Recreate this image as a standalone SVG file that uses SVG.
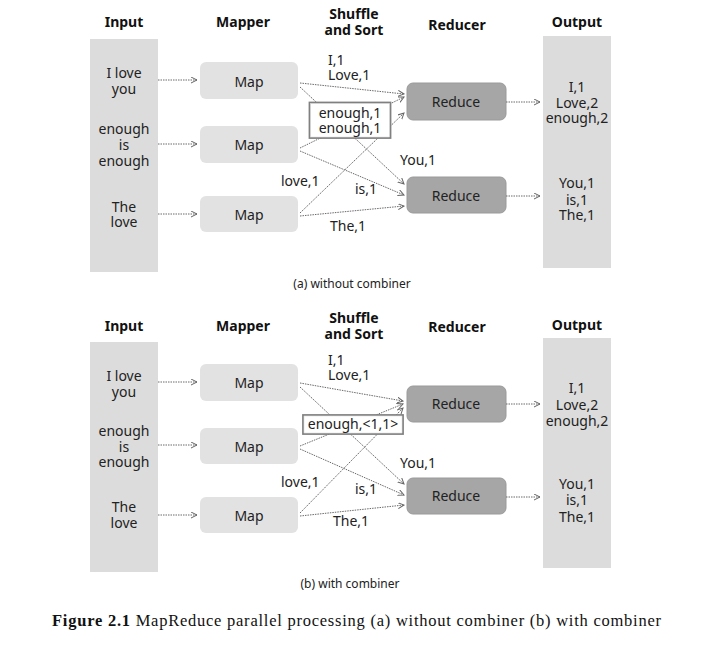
<svg xmlns="http://www.w3.org/2000/svg" width="717" height="656" viewBox="0 0 717 656">
<style>
.hd{font-family:"Noto Sans","Open Sans",sans-serif;font-weight:bold;font-size:14px;fill:#111;text-anchor:middle}
.t{font-family:"Noto Sans","Open Sans",sans-serif;font-size:14px;fill:#222}
.c{text-anchor:middle}
.col{fill:#dcdcdc}
.map{fill:#e2e2e2}
.red{fill:#a6a6a6;stroke:#9a9a9a;stroke-width:1}
.ln{stroke:#6a6a6a;stroke-width:1;stroke-dasharray:1.5 1;fill:none;marker-end:url(#ah)}
.cap{font-family:"Noto Sans","Open Sans",sans-serif;font-size:12px;fill:#222;text-anchor:middle}
.kb{fill:#fff;stroke:#808080;stroke-width:1.8}
.kbi{fill:none;stroke:#d8d8d8;stroke-width:0.5}
</style>
<defs>
<marker id="ah" markerUnits="userSpaceOnUse" markerWidth="8" markerHeight="8" refX="6" refY="3" orient="auto">
<path d="M0,0 L6,3 L0,6" fill="none" stroke="#666" stroke-width="1"/>
</marker>
</defs>
<rect width="717" height="656" fill="#fff"/>

<!-- ===== Panel (a) ===== -->
<g id="headers-a">
<text class="hd" x="124" y="27">Input</text>
<text class="hd" x="243" y="27">Mapper</text>
<text class="hd" x="354" y="19">Shuffle</text>
<text class="hd" x="354" y="35">and Sort</text>
<text class="hd" x="457" y="30">Reducer</text>
<text class="hd" x="577" y="27">Output</text>
</g>
<g id="input-a">
<rect class="col" x="90" y="39" width="68" height="233"/>
<text class="t c" x="124" y="78">I love</text>
<text class="t c" x="124" y="94">you</text>
<text class="t c" x="124" y="134">enough</text>
<text class="t c" x="124" y="150">is</text>
<text class="t c" x="124" y="166">enough</text>
<text class="t c" x="124" y="212">The</text>
<text class="t c" x="124" y="227">love</text>
</g>
<g id="map1-a"><rect class="map" x="200" y="62" width="98" height="37" rx="6"/><text class="t c" x="249" y="87">Map</text></g>
<g id="map2-a"><rect class="map" x="200" y="126" width="98" height="37" rx="6"/><text class="t c" x="249" y="150">Map</text></g>
<g id="map3-a"><rect class="map" x="200" y="196" width="98" height="36" rx="6"/><text class="t c" x="249" y="220">Map</text></g>
<g id="reduce1-a"><rect class="red" x="407" y="83" width="99" height="37" rx="6"/><text class="t c" x="456" y="107">Reduce</text></g>
<g id="reduce2-a"><rect class="red" x="407" y="177" width="99" height="36" rx="6"/><text class="t c" x="456" y="201">Reduce</text></g>
<g id="output-a">
<rect class="col" x="543" y="36" width="68" height="232"/>
<text class="t c" x="577" y="92">I,1</text>
<text class="t c" x="577" y="108">Love,2</text>
<text class="t c" x="577" y="123">enough,2</text>
<text class="t c" x="577" y="188">You,1</text>
<text class="t c" x="577" y="205">is,1</text>
<text class="t c" x="577" y="220">The,1</text>
</g>
<g id="connectors-a">
<line class="ln" x1="158" y1="80" x2="197" y2="80"/>
<line class="ln" x1="158" y1="144" x2="197" y2="144"/>
<line class="ln" x1="158" y1="214" x2="197" y2="214"/>
<line class="ln" x1="300" y1="83" x2="404" y2="94"/>
<line class="ln" x1="300" y1="87" x2="404" y2="184"/>
<line class="ln" x1="300" y1="148" x2="404" y2="97"/>
<line class="ln" x1="300" y1="151" x2="404" y2="195"/>
<line class="ln" x1="300" y1="213" x2="404" y2="113"/>
<line class="ln" x1="300" y1="216" x2="404" y2="206"/>
<line class="ln" x1="506" y1="102" x2="540" y2="102"/>
<line class="ln" x1="506" y1="196" x2="540" y2="196"/>
</g>
<g id="kv-a">
<rect class="kb" x="309.5" y="102.5" width="81" height="35.5"/>
<rect class="kbi" x="310.5" y="103.5" width="79" height="33.5"/>
<text class="t c" x="350" y="118">enough,1</text>
<text class="t c" x="350" y="133">enough,1</text>
<text class="t" x="328" y="65">I,1</text>
<text class="t" x="328" y="80">Love,1</text>
<text class="t" x="400" y="165">You,1</text>
<text class="t" x="281" y="186">love,1</text>
<text class="t" x="355" y="194">is,1</text>
<text class="t" x="330" y="231">The,1</text>
</g>
<text class="cap" x="352" y="288">(a) without combiner</text>

<!-- ===== Panel (b) ===== -->
<g id="headers-b">
<text class="hd" x="124" y="331">Input</text>
<text class="hd" x="243" y="331">Mapper</text>
<text class="hd" x="354" y="323">Shuffle</text>
<text class="hd" x="354" y="339">and Sort</text>
<text class="hd" x="457" y="332">Reducer</text>
<text class="hd" x="577" y="330">Output</text>
</g>
<g id="input-b">
<rect class="col" x="90" y="342" width="68" height="230"/>
<text class="t c" x="124" y="381">I love</text>
<text class="t c" x="124" y="397">you</text>
<text class="t c" x="124" y="436">enough</text>
<text class="t c" x="124" y="452">is</text>
<text class="t c" x="124" y="467">enough</text>
<text class="t c" x="124" y="512">The</text>
<text class="t c" x="124" y="528">love</text>
</g>
<g id="map1-b"><rect class="map" x="200" y="364" width="98" height="37" rx="6"/><text class="t c" x="249" y="388">Map</text></g>
<g id="map2-b"><rect class="map" x="200" y="428" width="98" height="36" rx="6"/><text class="t c" x="249" y="452">Map</text></g>
<g id="map3-b"><rect class="map" x="200" y="497" width="98" height="36" rx="6"/><text class="t c" x="249" y="521">Map</text></g>
<g id="reduce1-b"><rect class="red" x="407" y="386" width="99" height="36" rx="6"/><text class="t c" x="456" y="409">Reduce</text></g>
<g id="reduce2-b"><rect class="red" x="407" y="478" width="99" height="36" rx="6"/><text class="t c" x="456" y="501">Reduce</text></g>
<g id="output-b">
<rect class="col" x="543" y="338" width="68" height="230"/>
<text class="t c" x="577" y="393">I,1</text>
<text class="t c" x="577" y="410">Love,2</text>
<text class="t c" x="577" y="426">enough,2</text>
<text class="t c" x="577" y="489">You,1</text>
<text class="t c" x="577" y="505">is,1</text>
<text class="t c" x="577" y="522">The,1</text>
</g>
<g id="connectors-b">
<line class="ln" x1="158" y1="382" x2="197" y2="382"/>
<line class="ln" x1="158" y1="445" x2="197" y2="445"/>
<line class="ln" x1="158" y1="515" x2="197" y2="515"/>
<line class="ln" x1="300" y1="383" x2="403" y2="401"/>
<line class="ln" x1="300" y1="387" x2="404" y2="484"/>
<line class="ln" x1="300" y1="446" x2="403" y2="404"/>
<line class="ln" x1="300" y1="449" x2="404" y2="495"/>
<line class="ln" x1="300" y1="513" x2="403" y2="408"/>
<line class="ln" x1="300" y1="516" x2="404" y2="505"/>
<line class="ln" x1="506" y1="404" x2="540" y2="404"/>
<line class="ln" x1="506" y1="497" x2="540" y2="497"/>
</g>
<g id="kv-b">
<rect class="kb" x="303" y="415" width="100" height="19"/>
<rect class="kbi" x="304" y="416" width="98" height="17"/>
<text class="t c" x="353" y="429">enough,&lt;1,1&gt;</text>
<text class="t" x="328" y="365">I,1</text>
<text class="t" x="328" y="380">Love,1</text>
<text class="t" x="400" y="468">You,1</text>
<text class="t" x="281" y="487">love,1</text>
<text class="t" x="355" y="494">is,1</text>
<text class="t" x="333" y="526">The,1</text>
</g>
<text class="cap" x="350" y="588">(b) with combiner</text>

<text x="52" y="626" textLength="609" lengthAdjust="spacing" style="font-family:'Liberation Serif','DejaVu Serif',serif;font-size:16.5px;fill:#111"><tspan font-weight="bold">Figure 2.1</tspan> MapReduce parallel processing (a) without combiner (b) with combiner</text>
</svg>
